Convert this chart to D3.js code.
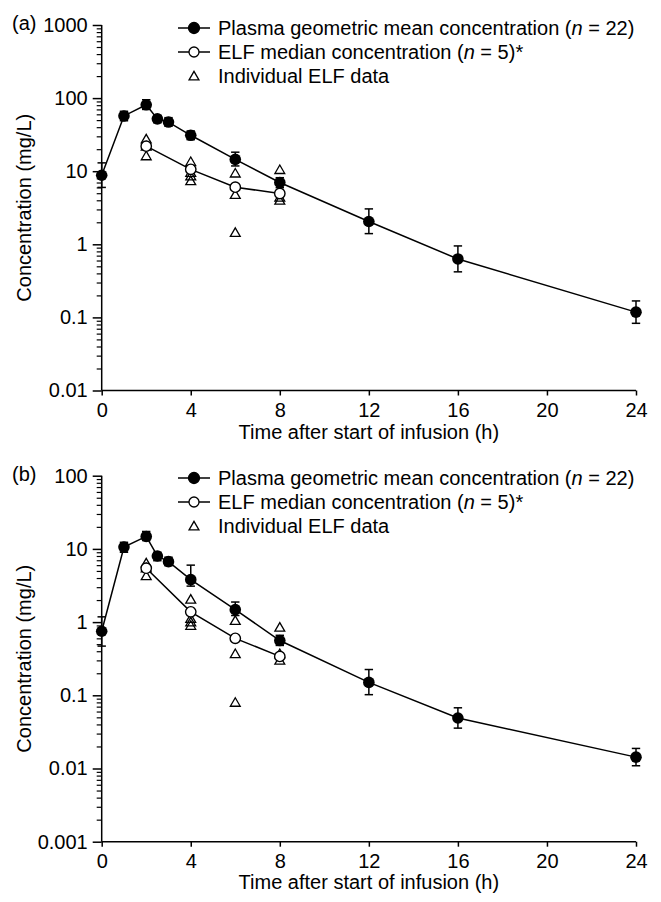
<!DOCTYPE html>
<html><head><meta charset="utf-8">
<script src="https://cdn.jsdelivr.net/npm/d3@7"></script>
<style>
html,body{margin:0;padding:0;background:#fff;}
svg{display:block;}
text{font-family:"Liberation Sans",Arial,Helvetica,sans-serif;fill:#000;}
</style></head><body>
<svg id="c" width="661" height="902"></svg>
<script>
// ---- data ----
const times = [0, 1, 2, 2.5, 3, 4, 6, 8, 12, 16, 24];
const plasmaA = [8.8, 57, 81, 52, 47, 31, 14.5, 7.0, 2.05, 0.63, 0.118];
const plasmaALo = [6.0, 49, 70, 46, 41.5, 27, 11.8, 5.95, 1.40, 0.42, 0.083];
const plasmaAHi = [13, 66, 95, 58, 54, 35.5, 18.2, 8.15, 3.05, 0.95, 0.168];
const plasmaB = [0.75, 10.6, 14.8, 8.0, 6.7, 3.8, 1.48, 0.56, 0.15, 0.049, 0.0143];
const plasmaBLo = [0.47, 9.0, 13, 6.9, 5.9, 3.1, 1.23, 0.48, 0.102, 0.0356, 0.0109];
const plasmaBHi = [1.18, 12.3, 17.3, 9.0, 7.7, 6.0, 1.88, 0.66, 0.225, 0.0675, 0.0188];
const elfTimes = [2, 4, 6, 8];
const elfA = [22, 10.6, 6.05, 4.95];
const elfB = [5.45, 1.38, 0.6, 0.34];
const indTimes = [2, 2, 2, 4, 4, 4, 4, 6, 6, 6, 8, 8, 8];
const indA = [27.5, 22, 16.2, 13.5, 9.6, 8.6, 7.4, 9.4, 4.8, 1.45, 10.5, 4.4, 4.0];
const indB = [6.4, 5.5, 4.3, 2.05, 1.12, 1.0, 0.9, 1.05, 0.37, 0.08, 0.85, 0.37, 0.30];
const xTicks = [0, 4, 8, 12, 16, 20, 24];
const yTicksA = [0.01, 0.1, 1, 10, 100, 1000];
const yTicksB = [0.001, 0.01, 0.1, 1, 10, 100];
const yLabelsA = ["0.01", "0.1", "1", "10", "100", "1000"];
const yLabelsB = ["0.001", "0.01", "0.1", "1", "10", "100"];
const legendLabels = ["Plasma geometric mean concentration (", "ELF median concentration (", "Individual ELF data"];
const legendN = ["22", "5"];

const svg = d3.select("#c");
const FS = 20;

function panel(opt) {
  const g = svg.append("g");
  const x = d3.scaleLinear().domain([0, 24]).range([101.7, 636]);
  const y = d3.scaleLog().domain(opt.ydom).range([opt.y0, opt.y1]);

  // minor ticks
  const minors = [];
  const lo = Math.log10(opt.ydom[0]), hi = Math.log10(opt.ydom[1]);
  for (let e = lo; e < hi; e++) for (let k = 2; k <= 9; k++) minors.push(k * Math.pow(10, e));
  const minAx = g.append("g").attr("transform", `translate(101.7,0)`)
    .call(d3.axisLeft(y).tickValues(minors).tickSize(5).tickFormat(""));
  minAx.select(".domain").remove();
  minAx.selectAll("line").attr("stroke", "#000").attr("stroke-width", 1.2);

  const yAx = g.append("g").attr("transform", `translate(101.7,0)`)
    .call(d3.axisLeft(y).tickValues(opt.yticks).tickSize(9).tickPadding(5)
      .tickFormat((d, i) => opt.ylabels[i]));
  yAx.select(".domain").attr("stroke", "#000").attr("stroke-width", 1.5).attr("d", `M0,${opt.y0}V${opt.y1}`);
  yAx.selectAll("line").attr("stroke", "#000").attr("stroke-width", 1.5);
  yAx.selectAll("text").attr("font-size", FS).attr("font-family", '"Liberation Sans",Arial,sans-serif').attr("fill", "#000");

  const xAx = g.append("g").attr("transform", `translate(0,${opt.y0})`)
    .call(d3.axisBottom(x).tickValues(xTicks).tickSize(5).tickPadding(7));
  xAx.select(".domain").attr("stroke", "#000").attr("stroke-width", 1.5).attr("d", `M${x(0)},0H${x(24)}`);
  xAx.selectAll("line").attr("stroke", "#000").attr("stroke-width", 1.5);
  xAx.selectAll("text").attr("font-size", FS).attr("font-family", '"Liberation Sans",Arial,sans-serif').attr("fill", "#000");

  // titles
  g.append("text").attr("x", (x(0) + x(24)) / 2).attr("y", opt.xtitleY)
    .attr("text-anchor", "middle").attr("font-size", FS).text("Time after start of infusion (h)");
  g.append("text").attr("transform", `translate(31,${(opt.y0 + opt.y1) / 2}) rotate(-90)`)
    .attr("text-anchor", "middle").attr("font-size", FS).text("Concentration (mg/L)");
  g.append("text").attr("x", 12).attr("y", opt.y1 + 5).attr("font-size", FS).text(opt.tag);

  const line = d3.line().x(d => x(d[0])).y(d => y(d[1]));
  const pdata = times.map((t, i) => [t, opt.plasma[i]]);
  const edata = elfTimes.map((t, i) => [t, opt.elf[i]]);
  g.append("path").attr("d", line(pdata)).attr("fill", "none").attr("stroke", "#000").attr("stroke-width", 1.5);
  g.append("path").attr("d", line(edata)).attr("fill", "none").attr("stroke", "#000").attr("stroke-width", 1.5);

  // error bars
  const eb = g.append("g").attr("stroke", "#000").attr("stroke-width", 1.5);
  times.forEach((t, i) => {
    const cx = x(t), yl = y(opt.lo[i]), yh = y(opt.hi[i]);
    eb.append("line").attr("x1", cx).attr("x2", cx).attr("y1", yl).attr("y2", yh);
    eb.append("line").attr("x1", cx - 4.2).attr("x2", cx + 4.2).attr("y1", yl).attr("y2", yl);
    eb.append("line").attr("x1", cx - 4.2).attr("x2", cx + 4.2).attr("y1", yh).attr("y2", yh);
  });

  const tri = d3.symbol().type(d3.symbolTriangle).size(42);
  g.append("g").selectAll("path").data(indTimes.map((t, i) => [t, opt.ind[i]])).join("path")
    .attr("d", tri).attr("transform", d => `translate(${x(d[0])},${y(d[1]) + 1})`)
    .attr("fill", "none").attr("stroke", "#000").attr("stroke-width", 1.3);

  g.append("g").selectAll("circle").data(edata).join("circle")
    .attr("cx", d => x(d[0])).attr("cy", d => y(d[1])).attr("r", 5.2)
    .attr("fill", "#fff").attr("stroke", "#000").attr("stroke-width", 1.4);
  g.append("g").selectAll("circle").data(pdata).join("circle")
    .attr("cx", d => x(d[0])).attr("cy", d => y(d[1])).attr("r", 5.8)
    .attr("fill", "#000");

  // legend
  const lg = g.append("g");
  const ly = opt.legY;
  [0, 1, 2].forEach(i => {
    const yy = ly + i * 24;
    if (i < 2) {
      lg.append("line").attr("x1", 178).attr("x2", 210).attr("y1", yy).attr("y2", yy)
        .attr("stroke", "#000").attr("stroke-width", 1.5);
      lg.append("circle").attr("cx", 194).attr("cy", yy).attr("r", i === 0 ? 5.5 : 5)
        .attr("fill", i === 0 ? "#000" : "#fff").attr("stroke", "#000").attr("stroke-width", 1.3);
    } else {
      lg.append("path").attr("d", tri).attr("transform", `translate(194,${yy + 1})`)
        .attr("fill", "none").attr("stroke", "#000").attr("stroke-width", 1.3);
    }
    const t = lg.append("text").attr("x", 218).attr("y", yy + 7).attr("font-size", FS);
    t.append("tspan").text(legendLabels[i]);
    if (i < 2) {
      t.append("tspan").attr("font-style", "italic").text("n");
      t.append("tspan").text(" = " + legendN[i] + ")" + (i === 1 ? "*" : ""));
    }
  });
}

panel({ydom: [0.01, 1000], y0: 390.5, y1: 25, yticks: yTicksA, ylabels: yLabelsA,
  plasma: plasmaA, lo: plasmaALo, hi: plasmaAHi, elf: elfA, ind: indA,
  xtitleY: 439, legY: 28, tag: "(a)"});
panel({ydom: [0.001, 100], y0: 841.7, y1: 475.7, yticks: yTicksB, ylabels: yLabelsB,
  plasma: plasmaB, lo: plasmaBLo, hi: plasmaBHi, elf: elfB, ind: indB,
  xtitleY: 889, legY: 478, tag: "(b)"});
</script>
</body></html>
